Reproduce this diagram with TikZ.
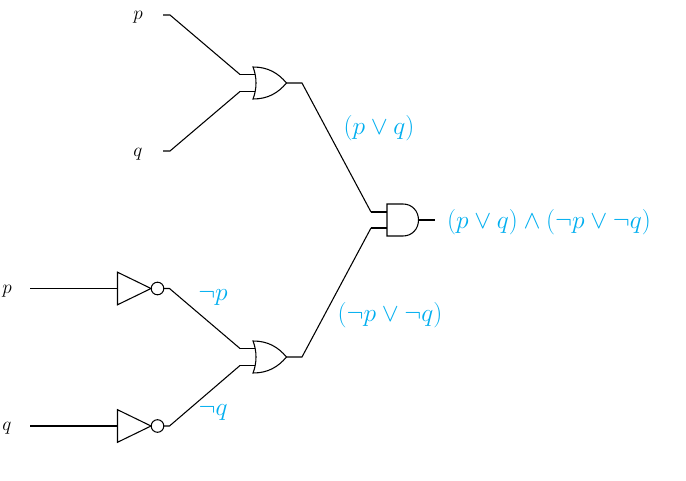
\documentclass[tikz,border=0pt]{standalone}
\usepackage{amsmath,amssymb}
\definecolor{labelblue}{HTML}{00AEEF}
\tikzset{
  wire/.style={line width=0.8pt},
  lead/.style={line width=1.1pt},
  gatebox/.style={inner sep=0pt, minimum width=24.75pt, minimum height=24.75pt},
  notbox/.style={inner sep=0pt, minimum width=34.5pt, minimum height=24.75pt},
  varlabel/.style={font=\fontsize{15}{17}\selectfont},
  exprlabel/.style={font=\fontsize{20.5}{24}\selectfont, text=labelblue, scale=0.92}
}
% name, centre
\newcommand{\orgate}[2]{
  \begin{scope}[shift={(#2)}]
    \node[gatebox] (#1) at (0,0) {};
    \draw[wire] (-17,-16) .. controls (-2,-16) and (8,-10) .. (16.5,0)
      .. controls (8,10) and (-2,16) .. (-17,16)
      .. controls (-13,6) and (-13,-6) .. (-17,-16) -- cycle;
    \coordinate (#1-a) at (-15,-8.5);
    \coordinate (#1-b) at (-15,8.5);
  \end{scope}
}
\newcommand{\andgate}[2]{
  \begin{scope}[shift={(#2)}]
    \node[gatebox] (#1) at (0,0) {};
    \draw[wire] (-16,-16) -- (0,-16) .. controls (9,-16) and (15.5,-9) .. (15.5,0)
      .. controls (15.5,9) and (9,16) .. (0,16) -- (-16,16) -- cycle;
    \coordinate (#1-a) at (-16,-8);
    \coordinate (#1-b) at (-16,8);
    \coordinate (#1-c) at (15.5,0);
  \end{scope}
}
\newcommand{\notgate}[2]{
  \begin{scope}[shift={(#2)}]
    \node[notbox] (#1) at (0,0) {};
    \draw[wire] (-23,-16.3) -- (10.5,0) -- (-23,16.3) -- cycle;
    \draw[wire] (17,0) circle (6.3);
  \end{scope}
}
\begin{document}
\begin{tikzpicture}[x=0.75pt, y=-0.75pt]
\useasboundingbox (0,0) rectangle (686,481);

% Top inputs
\node[varlabel] (p1) at (138,17) {$p$};
\node[varlabel] (q1) at (138,154) {$q$};
\coordinate (p1end) at (163,15);
\coordinate (p1bend) at (170,15);
\coordinate (q1end) at (163,151);
\coordinate (q1bend) at (170,151);

% Top OR
\orgate{ortop}{270,83}
\coordinate (ortopa) at (240,74.5);
\coordinate (ortopb) at (240,91.5);
\coordinate (ortopc) at (302,83);
\draw[wire] (p1end) -- (p1bend) -- (ortopa);
\draw[wire] (q1end) -- (q1bend) -- (ortopb);
\draw[lead] (ortopa) -- (ortop-a);
\draw[lead] (ortopb) -- (ortop-b);

% Lower inputs
\node[varlabel] (p2) at (7,291) {$p$};
\node[varlabel] (q2) at (7,428) {$q$};
\notgate{notp}{140.5,288.5}
\notgate{notq}{140.5,426}
\coordinate (p2start) at (30,288.5);
\coordinate (q2start) at (30,426);
\coordinate (notpend) at (169.5,288.5);
\coordinate (notqend) at (169.5,426);
\draw[lead] (p2start) -- (notp.west);
\draw[lead] (q2start) -- (notq.west);

% Lower OR
\orgate{orbot}{270,357}
\coordinate (orbota) at (240,348.5);
\coordinate (orbotb) at (240,365.5);
\coordinate (orbotc) at (302,357);
\draw[wire] (notp.east) -- (notpend) -- (orbota);
\draw[wire] (notq.east) -- (notqend) -- (orbotb);
\draw[lead] (orbota) -- (orbot-a);
\draw[lead] (orbotb) -- (orbot-b);

% AND
\andgate{andgt}{403,220}
\coordinate (anda) at (371,212);
\coordinate (andb) at (371,228);
\coordinate (andout) at (435,220);
\draw[wire] (ortop.east) -- (ortopc) -- (anda);
\draw[wire] (orbot.east) -- (orbotc) -- (andb);
\draw[lead] (anda) -- (andgt-a);
\draw[lead] (andb) -- (andgt-b);
\draw[wire] (andgt-c) -- (andout);

% Labels
\node[exprlabel] (ortoplabel) at (379,128) {$(p \vee q)$};
\node[exprlabel] (orbotlabel) at (390,315) {$(\neg p \vee \neg q)$};
\node[exprlabel] (andlabel) at (549,222) {$(p \vee q) \wedge (\neg p \vee \neg q)$};
\node[exprlabel] (notplabel) at (213,297) {$\neg p$};
\node[exprlabel] (notqlabel) at (213,412) {$\neg q$};
\end{tikzpicture}
\end{document}
